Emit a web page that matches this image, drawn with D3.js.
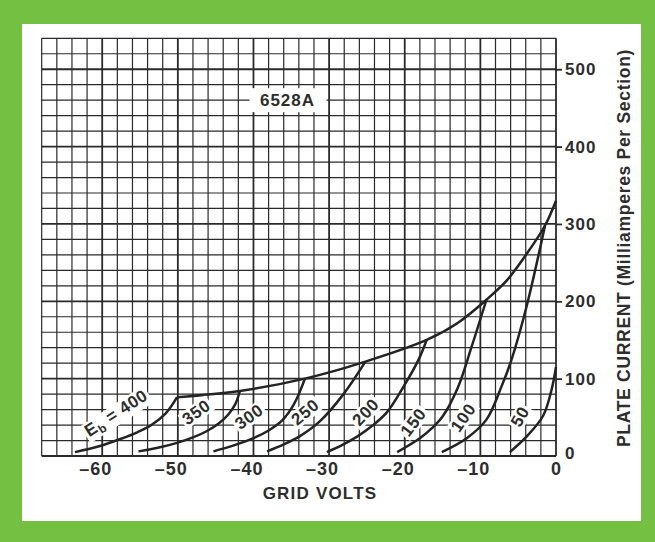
<!DOCTYPE html>
<html>
<head>
<meta charset="utf-8">
<script src="https://cdn.jsdelivr.net/npm/d3@7"></script>
<style>
  body { margin: 0; background: #fff; }
  svg text { font-family: "Liberation Sans", Arial, sans-serif; font-weight: bold; fill: #2d2d2d; }
</style>
</head>
<body>
<script>
var width = 655
var height = 542
var plot = {left: 41.7, right: 556, top: 38.3, bottom: 456}

// axis ticks
var voltTicks = [-60, -50, -40, -30, -20, -10, 0]
var currentTicks = [0, 100, 200, 300, 400, 500]

// plate voltage of each curve, in drawing order
var plateVolts = ["400", "350", "300", "250", "200", "150", "100", "50"]

// [grid volts, plate mA]
var curve400 = [[-63.6, 5], [-60.3, 13], [-57.6, 22], [-55.3, 31], [-53.5, 40], [-51.6, 55], [-50.1, 76]]
var curve350 = [[-55.2, 6], [-52.5, 11], [-50.1, 17], [-48, 24], [-46.2, 32], [-44.6, 42], [-43.3, 54], [-42.4, 67], [-41.8, 84]]
var curve300 = [[-45.3, 6], [-42.5, 14], [-40, 23], [-38, 33], [-36.2, 46], [-34.7, 66], [-33.2, 100]]
var curve250 = [[-38.2, 6], [-36, 15], [-33.8, 26], [-31.2, 45], [-28.1, 80], [-25.2, 122]]
var curve200 = [[-30.3, 5], [-28.3, 14], [-26.3, 25], [-24.3, 39], [-22.4, 56], [-20.2, 89], [-18.2, 124], [-17.1, 150]]
var curve150 = [[-21, 5], [-18, 23], [-16.4, 36], [-15, 51], [-13, 88], [-11.2, 140], [-9.2, 202]]
var curve100 = [[-15.1, 5], [-11.8, 23], [-9.2, 47], [-7.2, 90], [-5.9, 124], [-3.9, 193], [-1.45, 298]]
var curve50 = [[-6.1, 5], [-3.9, 25], [-1.7, 52], [-0.6, 85], [0, 115]]
var curves = [curve400, curve350, curve300, curve250, curve200, curve150, curve100, curve50]

// upper limit line joining the tops of the curves
var envelope = [[-50.1, 76], [-41.8, 84], [-33.2, 100], [-25.2, 122], [-17.1, 150], [-13, 172], [-9.2, 202], [-6.5, 227], [-3.9, 261], [-1.45, 298], [0, 330]]

// where the curve labels sit: [volts, mA, angle]
var labelSpots = [[-58.2, 56, -33], [-47.6, 57, -36], [-40.6, 51, -36], [-33.2, 57, -40], [-25.2, 57, -47], [-18.9, 44, -53], [-12.3, 50, -55], [-4.8, 51, -60]]

var svg = d3.select('body')
      .append('svg')
      .attr('width', width)
      .attr('height', height);

// green frame + white card
svg.append('rect').attr('width', width).attr('height', height).attr('fill', '#74c043');
svg.append('rect')
    .attr('x', 22).attr('y', 24)
    .attr('width', 619).attr('height', 497)
    .attr('fill', '#ffffff');

var x = d3.scaleLinear().domain([-68, 0]).range([plot.left, plot.right]);
var y = d3.scaleLinear().domain([0, 540]).range([plot.bottom, plot.top]);

// grid: 2 V by 20 mA, heavier every 10 V / 100 mA
var grid = svg.append('g').attr('stroke', '#2a2a2a');
grid.selectAll('.v')
    .data(d3.range(-68, 1, 2))
    .enter().append('line')
    .attr('x1', function(d){return x(d)}).attr('x2', function(d){return x(d)})
    .attr('y1', y(0)).attr('y2', y(540))
    .attr('stroke-width', function(d){return d % 10 == 0 ? 1.8 : 1.2});
grid.selectAll('.h')
    .data(d3.range(0, 541, 20))
    .enter().append('line')
    .attr('y1', function(d){return y(d)}).attr('y2', function(d){return y(d)})
    .attr('x1', x(-68)).attr('x2', x(0))
    .attr('stroke-width', function(d){return d % 100 == 0 ? 1.8 : 1.2});

// curve labels (white box knocks out the grid)
var labels = svg.selectAll('.lbl')
      .data(plateVolts)
      .enter()
      .append('g')
      .attr('transform', function(d, i) {
        var s = labelSpots[i];
        return 'translate(' + x(s[0]) + ',' + y(s[1]) + ') rotate(' + s[2] + ')';
      });
var boxes = labels.append('rect').attr('fill', '#fff');
var ltext = labels.append('text')
      .attr('text-anchor', 'middle')
      .attr('dy', '0.36em')
      .style('font-size', '17px')
      .style('letter-spacing', '0.6px');
ltext.each(function(d, i) {
  var t = d3.select(this);
  if (i == 0) {
    t.append('tspan').text('E');
    t.append('tspan').attr('dy', 4).style('font-size', '12px').text('b');
    t.append('tspan').attr('dy', -4).text(' = ' + d);
  } else {
    t.text(d);
  }
});
boxes.each(function(d, i) {
  var b = d3.select(this.parentNode).select('text').node().getBBox();
  d3.select(this)
    .attr('x', b.x - 2).attr('y', b.y + 1)
    .attr('width', b.width + 4).attr('height', b.height - 2);
});

// curves
var line = d3.line()
      .x(function(d){return x(d[0])})
      .y(function(d){return y(d[1])})
      .curve(d3.curveCatmullRom.alpha(0.5));

svg.append('g').selectAll('path')
    .data(curves)
    .enter().append('path')
    .attr('d', line)
    .attr('fill', 'none')
    .attr('stroke', '#232323')
    .attr('stroke-width', 2.5);

svg.append('path')
    .datum(envelope)
    .attr('d', line)
    .attr('fill', 'none')
    .attr('stroke', '#232323')
    .attr('stroke-width', 2.5);

// keep label text above the curves
labels.raise();

// tube type
var title = svg.append('g').attr('transform', 'translate(' + x(-35.5) + ',' + y(460) + ')');
title.append('rect').attr('x', -38).attr('y', -12).attr('width', 77).attr('height', 24).attr('fill', '#fff');
title.append('text')
    .attr('text-anchor', 'middle')
    .attr('dy', '0.36em')
    .style('font-size', '17px')
    .style('letter-spacing', '1px')
    .text('6528A');

// axes
var xAxis = d3.axisBottom()
      .scale(x)
      .tickValues(voltTicks)
      .tickSize(0)
      .tickPadding(6)
      .tickFormat(function(d){return d < 0 ? '\u2013' + Math.abs(d) : d});
var gx = svg.append('g')
    .attr('transform', 'translate(0,' + plot.bottom + ')')
    .call(xAxis);
gx.select('.domain').remove();
gx.selectAll('text')
    .attr('fill', '#2d2d2d')
    .attr('dx', function(d){return d < 0 ? -7 : 0})
    .style('font-size', '18px')
    .style('letter-spacing', '1px')
    .style('font-family', '"Liberation Sans", Arial, sans-serif');

var yAxis = d3.axisRight()
      .scale(y)
      .tickValues(currentTicks)
      .tickSize(6)
      .tickPadding(3);
var gy = svg.append('g')
    .attr('transform', 'translate(' + plot.right + ',0)')
    .call(yAxis);
gy.select('.domain').remove();
gy.selectAll('.tick line')
    .attr('stroke', '#2a2a2a')
    .attr('stroke-width', 1.8)
    .attr('opacity', function(d){return d == 0 ? 0 : 1});
gy.selectAll('text')
    .attr('fill', '#2d2d2d')
    .attr('y', function(d){return d == 0 ? -3 : 0})
    .style('font-size', '17px')
    .style('letter-spacing', '1px')
    .style('font-family', '"Liberation Sans", Arial, sans-serif');

svg.append('text')
    .attr('x', 320).attr('y', 499)
    .attr('text-anchor', 'middle')
    .style('font-size', '17px')
    .style('letter-spacing', '1.2px')
    .text('GRID VOLTS');

svg.append('text')
    .attr('transform', 'translate(630,248) rotate(-90)')
    .attr('text-anchor', 'middle')
    .style('font-size', '17.5px')
    .style('letter-spacing', '0.7px')
    .text('PLATE CURRENT (Milliamperes Per Section)');
</script>
</body>
</html>
